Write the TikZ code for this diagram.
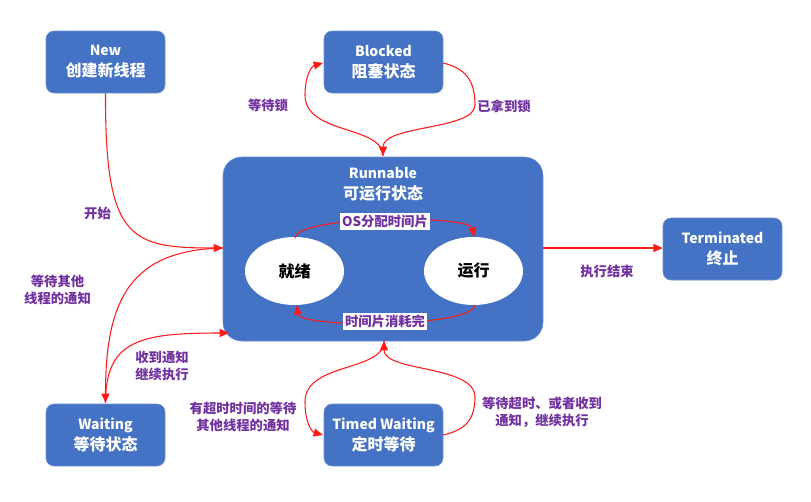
\documentclass[tikz,border=0pt]{standalone}
\usepackage{fontspec}
\setmainfont{Noto Sans CJK SC}
\usetikzlibrary{arrows.meta,shapes.geometric}
\definecolor{boxblue}{HTML}{4472C4}
\definecolor{boxedge}{HTML}{6F8FD0}
\definecolor{lblpurple}{HTML}{7030A0}
\definecolor{arrred}{HTML}{FF1A1A}
\begin{document}
\begin{tikzpicture}[x=0.75pt,y=-0.75pt,
  statebox/.style={draw=boxedge, line width=0.4pt, fill=boxblue, rounded corners=6pt,
    minimum width=89.25pt, minimum height=46.5pt, inner sep=0pt, text=white,
    align=center, font=\bfseries\fontsize{12}{15.75}\selectfont},
  bigbox/.style={draw=boxedge, line width=0.4pt, fill=boxblue, rounded corners=14pt,
    minimum width=240pt, minimum height=138pt, inner sep=0pt},
  oval/.style={ellipse, fill=white, draw=none, minimum width=74.25pt, minimum height=51pt,
    inner sep=0pt, font=\bfseries\fontsize{12}{14}\selectfont, text=black},
  lbl/.style={text=lblpurple, align=center, inner sep=0pt,
    font=\bfseries\fontsize{10}{12.75}\selectfont},
  inlbl/.style={lbl, fill=white, inner sep=1.5pt},
  arr/.style={draw=arrred, line width=0.8pt, -{Triangle[length=7pt,width=6pt]}},
  plain/.style={draw=arrred, line width=0.8pt}
]
\useasboundingbox (0,0) rectangle (811,501);

% boxes
\node[statebox] (new) at (105.5,62) {{\fontsize{10.5}{15.75}\selectfont New}\\创建新线程};
\node[statebox] (blk) at (383.5,62) {{\fontsize{10.5}{15.75}\selectfont Blocked}\\阻塞状态};
\node[statebox] (term) at (722.5,249) {{\fontsize{10.5}{15.75}\selectfont Terminated}\\终止};
\node[statebox] (wait) at (105.5,435) {{\fontsize{10.5}{15.75}\selectfont Waiting}\\等待状态};
\node[statebox] (tw) at (383.5,435) {{\fontsize{10.5}{15.75}\selectfont Timed Waiting}\\定时等待};
\node[bigbox] (run) at (383,249) {};
\node[text=white, font=\bfseries\fontsize{10.5}{15}\selectfont] (runt1) at (383,173) {Runnable};
\node[text=white, font=\bfseries\fontsize{12}{15}\selectfont] (runt2) at (383,193) {可运行状态};

% ellipses
\node[oval] (ready) at (294.5,271) {就绪};
\node[oval] (running) at (473.5,271) {运行};

% inner arcs
\coordinate (rtop) at (295,238);
\coordinate (rbot) at (297,305);
\coordinate (gtop) at (474,237);
\coordinate (gbot) at (475,305);
\draw[arr] (rtop) .. controls (297,215) and (470,215) .. (gtop);
\draw[arr] (gbot) .. controls (472,328) and (299,328) .. (rbot);
\node[inlbl] (os) at (385,221.5) {OS分配时间片};
\node[inlbl] (slice) at (385,321.5) {时间片消耗完};

% connectors
\coordinate (runL) at (223,248);
\coordinate (runLB) at (229,333);
\coordinate (runT) at (383,156);
\coordinate (runB) at (384,341);
\coordinate (blkL) at (323,63);
\coordinate (blkR) at (443,63);
\coordinate (twL) at (323,435);
\coordinate (twR) at (443,435);
\coordinate (waitT) at (105.5,403);

\draw[arr] (new.south) .. controls (105,240) and (130,248) .. (runL);
\draw[arr] (runL) .. controls (130,250) and (105.5,300) .. (waitT);
\draw[arr] (waitT) .. controls (105.5,340) and (140,333) .. (runLB);

\draw[arr] (runT) .. controls (383,125) and (305,135) .. (305,95)
  .. controls (305,75) and (312,66) .. (blkL);
\draw[arr] (blkR) .. controls (465,68) and (475,80) .. (475,105)
  .. controls (475,130) and (383,125) .. (runT);

\draw[arr] (runB) .. controls (384,372) and (305,362) .. (305,402)
  .. controls (305,423) and (312,432) .. (twL);
\draw[arr] (twR) .. controls (465,430) and (475,420) .. (475,397)
  .. controls (475,365) and (384,372) .. (runB);

\draw[arr] (run.east |- 0,248) -- (term.west |- 0,248);

% labels
\node[lbl] (l1) at (268,105) {等待锁};
\node[lbl] (l2) at (504,106) {已拿到锁};
\node[lbl] (l3) at (97.5,213) {开始};
\node[lbl] (l4) at (57.5,290) {等待其他\\线程的通知};
\node[lbl] (l5) at (162,365.5) {收到通知\\继续执行};
\node[lbl] (l6) at (243,416.5) {有超时时间的等待\\其他线程的通知};
\node[lbl] (l7) at (542,412) {等待超时、或者收到\\通知，继续执行};
\node[lbl] (l8) at (607,271) {执行结束};
\end{tikzpicture}
\end{document}
